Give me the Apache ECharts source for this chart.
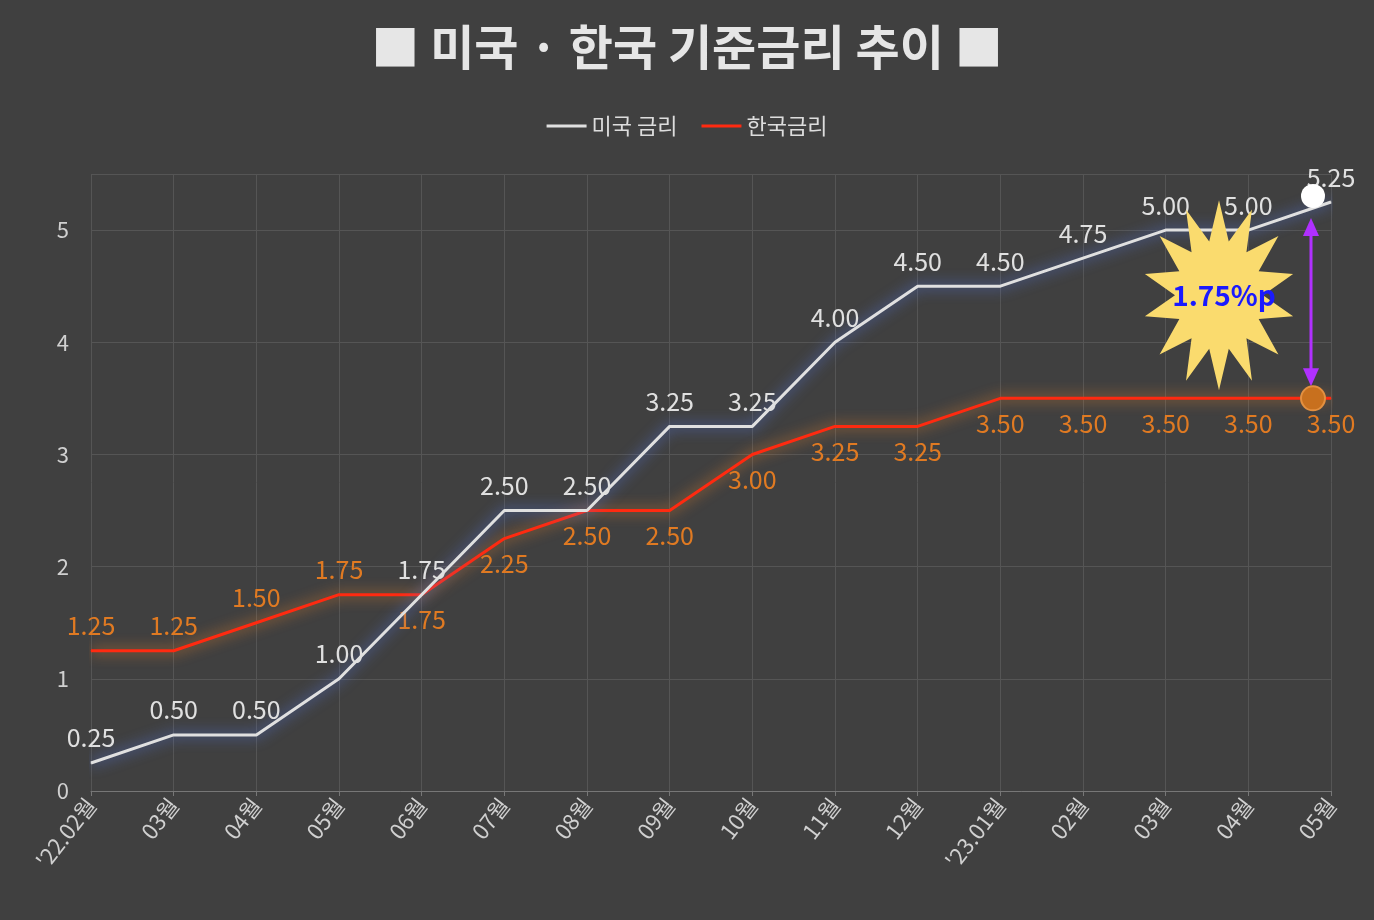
<!DOCTYPE html>
<html>
<head>
<meta charset="utf-8">
<script src="https://cdn.jsdelivr.net/npm/echarts@6/dist/echarts.min.js"></script>
<style>html,body{margin:0;background:#404040}#chart{width:1374px;height:920px}</style>
</head>
<body>
<div id="chart"></div>
<script>
var months = ["'22.02월","03월","04월","05월","06월","07월","08월","09월","10월","11월","12월","'23.01월","02월","03월","04월","05월"];
var usRate = [0.25,0.5,0.5,1.0,1.75,2.5,2.5,3.25,3.25,4.0,4.5,4.5,4.75,5.0,5.0,5.25];
var krRate = [1.25,1.25,1.5,1.75,1.75,2.25,2.5,2.5,3.0,3.25,3.25,3.5,3.5,3.5,3.5,3.5];
var krLabelTop = [true,true,true,true,false,false,false,false,false,false,false,false,false,false,false,false];
var gapText = '1.75%p';

var chart = echarts.init(document.getElementById('chart'));
var font = "'Noto Sans CJK KR', 'Noto Sans', sans-serif";

var krData = krRate.map(function(v, i) {
    return { value: v, label: { position: krLabelTop[i] ? 'top' : 'bottom' } };
});

chart.setOption({
    backgroundColor: '#404040',
    textStyle: { fontFamily: font },
    title: {
        text: '■ 미국 · 한국 기준금리 추이 ■',
        left: 'center', top: 18,
        textStyle: { color: '#e6e6e6', fontSize: 48, fontWeight: 'bold', fontFamily: font }
    },
    legend: {
        top: 110, left: 'center', itemWidth: 40, itemHeight: 3, itemGap: 24,
        icon: 'rect',
        textStyle: { color: '#dddddd', fontSize: 22 },
        data: ['미국 금리', '한국금리']
    },
    grid: { left: 91, right: 43, top: 174, bottom: 129, containLabel: false },
    xAxis: {
        type: 'category', data: months, boundaryGap: false,
        axisLine: { lineStyle: { color: '#777' } },
        axisTick: { show: true, lineStyle: { color: '#777' } },
        axisLabel: { color: '#d0d0d0', fontSize: 22, rotate: 52, margin: 10 },
        splitLine: { show: true, lineStyle: { color: '#555' } }
    },
    yAxis: {
        type: 'value', min: 0, max: 5.5, interval: 1,
        axisLine: { show: false }, axisTick: { show: false },
        axisLabel: { color: '#d0d0d0', fontSize: 22, margin: 22, showMaxLabel: false },
        splitLine: { lineStyle: { color: '#555' } }
    },
    series: [{
        name: '미국 금리', type: 'line', data: usRate, symbol: 'circle', symbolSize: 1,
        itemStyle: { color: '#e0e0e0' },
        lineStyle: { width: 3, color: '#e0e0e0', shadowBlur: 14, shadowColor: 'rgba(90,130,255,0.9)' },
        label: { show: true, position: 'top', color: '#e0e0e0', fontSize: 25, distance: 12,
            formatter: function(p) { return p.value.toFixed(2); } },
        z: 3
    }, {
        name: '한국금리', type: 'line', data: krData, symbol: 'circle', symbolSize: 1,
        itemStyle: { color: '#ff2a10' },
        lineStyle: { width: 3, color: '#ff2a10', shadowBlur: 14, shadowColor: 'rgba(255,140,40,0.9)' },
        label: { show: true, color: '#e07a22', fontSize: 25, distance: 12,
            formatter: function(p) { return p.value.toFixed(2); } },
        z: 2
    }]
});

// 주석: 금리차 화살표와 별
var pUs = chart.convertToPixel({ seriesIndex: 0 }, [15, usRate[15]]);
var pKr = chart.convertToPixel({ seriesIndex: 1 }, [15, krRate[15]]);
var x = pUs[0] - 20;
var starPts = [];
var cx = x - 92, cy = (pUs[1] + pKr[1]) / 2 - 5;
for (var i = 0; i < 28; i++) {
    var a = Math.PI * 2 * i / 28 - Math.PI / 2;
    var r = i % 2 === 0 ? 95 : 55;
    starPts.push([cx + Math.cos(a) * r * 0.8, cy + Math.sin(a) * r]);
}
chart.setOption({
    graphic: [
        { type: 'polygon', shape: { points: starPts }, style: { fill: '#fadb6e' }, z: 10 },
        { type: 'text', x: cx + 5, y: cy, style: { text: gapText, fill: '#1a1aff', font: 'bold 28px ' + font, align: 'center', verticalAlign: 'middle' }, z: 11 },
        { type: 'line', shape: { x1: x, y1: pUs[1] + 22, x2: x, y2: pKr[1] - 18 }, style: { stroke: '#b030ff', lineWidth: 3 }, z: 12 },
        { type: 'polygon', shape: { points: [[x - 8, pUs[1] + 34], [x + 8, pUs[1] + 34], [x, pUs[1] + 16]] }, style: { fill: '#b030ff' }, z: 12 },
        { type: 'polygon', shape: { points: [[x - 8, pKr[1] - 30], [x + 8, pKr[1] - 30], [x, pKr[1] - 12]] }, style: { fill: '#b030ff' }, z: 12 },
        { type: 'circle', shape: { cx: x + 2, cy: pUs[1] - 6, r: 12 }, style: { fill: '#ffffff' }, z: 12 },
        { type: 'circle', shape: { cx: x + 2, cy: pKr[1], r: 12 }, style: { fill: '#c8701e', stroke: '#e39040', lineWidth: 2 }, z: 12 }
    ]
});
</script>
</body>
</html>
